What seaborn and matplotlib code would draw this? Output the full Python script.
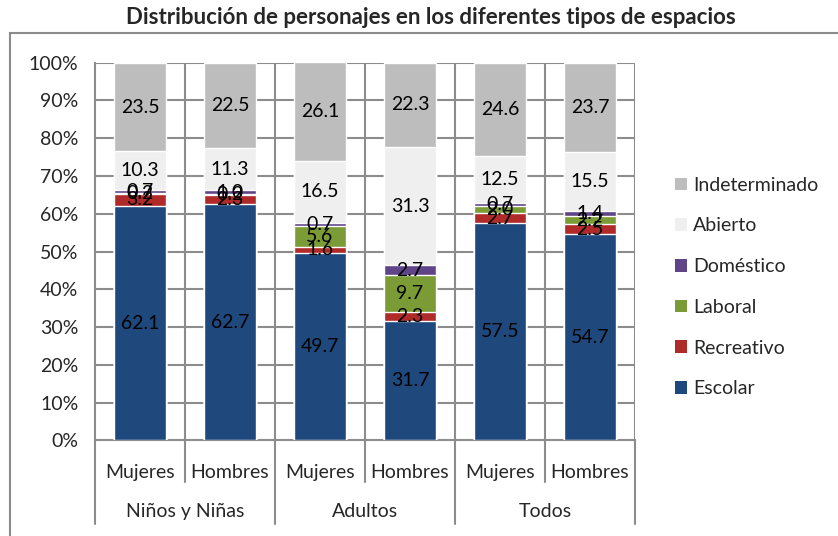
import numpy as np
import pandas as pd
import matplotlib
matplotlib.use("Agg")
import matplotlib.pyplot as plt
import matplotlib.patches as mpatches
import seaborn as sns

# Datos (porcentajes por tipo de espacio)
grupos = ["Niños y Niñas", "Niños y Niñas", "Adultos", "Adultos", "Todos", "Todos"]
sexos = ["Mujeres", "Hombres", "Mujeres", "Hombres", "Mujeres", "Hombres"]
espacios = ["Escolar", "Recreativo", "Laboral", "Doméstico", "Abierto", "Indeterminado"]

escolar = [62.1, 62.7, 49.7, 31.7, 57.5, 54.7]
recreativo = [3.2, 2.3, 1.6, 2.3, 2.7, 2.5]
laboral = [0.2, 0.2, 5.6, 9.7, 2.0, 2.2]
domestico = [0.7, 1.0, 0.7, 2.7, 0.7, 1.4]
abierto = [10.3, 11.3, 16.5, 31.3, 12.5, 15.5]
indeterminado = [23.5, 22.5, 26.1, 22.3, 24.6, 23.7]

colores = {
    "Escolar": "#1f497d",
    "Recreativo": "#b02a2a",
    "Laboral": "#7b9b36",
    "Doméstico": "#5f4488",
    "Abierto": "#efefef",
    "Indeterminado": "#bdbdbd",
}

sns.set_style("white")
plt.rcParams["font.family"] = ["Lato", "DejaVu Sans"]
FS = 14

df = pd.DataFrame({"barra": [f"{g}|{s}" for g, s in zip(grupos, sexos)]})
valores = [escolar, recreativo, laboral, domestico, abierto, indeterminado]
for nombre, v in zip(espacios, valores):
    df[nombre] = v
acum = df[espacios].cumsum(axis=1)

fig = plt.figure(figsize=(8.38, 5.36), dpi=100)
ax = fig.add_axes([0.1134, 0.1782, 0.6444, 0.7048])

# Barras apiladas: se dibujan los acumulados de arriba hacia abajo
for nombre in reversed(espacios):
    sns.barplot(x=df["barra"], y=acum[nombre], color=colores[nombre],
                width=0.58, saturation=1, ax=ax, zorder=3)

# Etiquetas de datos
for i in range(len(df)):
    base = 0
    for nombre in espacios:
        v = df.loc[i, nombre]
        ax.text(i, base + v / 2, f"{v:.1f}",
                ha="center", va="center", fontsize=FS, color="black", zorder=5)
        base += v

ax.set_ylim(0, 100)
ax.set_xlim(-0.5, 5.5)
ax.set_yticks(np.arange(0, 101, 10))
ax.set_yticklabels([f"{t}%" for t in range(0, 101, 10)], fontsize=FS)
ax.set_xticks(range(6))
ax.set_xticklabels(sexos, fontsize=FS)
ax.tick_params(axis="x", length=0, pad=17)
ax.tick_params(axis="y", length=7, width=1.5, color="#8c8c8c", direction="out", pad=5)
ax.set_xlabel("")
ax.set_ylabel("")

grid_c = "#8c8c8c"
for y in range(10, 101, 10):
    ax.axhline(y, color=grid_c, lw=1.5, zorder=1)
for x in np.arange(0.5, 5.6, 1):
    ax.axvline(x, color=grid_c, lw=1.5, zorder=1)
for s in ["top", "right"]:
    ax.spines[s].set_visible(False)
for s in ["left", "bottom"]:
    ax.spines[s].set_color(grid_c)
    ax.spines[s].set_linewidth(1.5)

# Eje x de dos niveles
tr = ax.get_xaxis_transform()
for x in [0.5, 2.5, 4.5]:
    ax.plot([x, x], [0, -0.111], color=grid_c, lw=1.5, transform=tr, clip_on=False)
for x in [-0.5, 1.5, 3.5, 5.5]:
    ax.plot([x, x], [0, -0.22], color=grid_c, lw=1.5, transform=tr, clip_on=False)
for x, g in zip([0.5, 2.5, 4.5], ["Niños y Niñas", "Adultos", "Todos"]):
    ax.text(x, -0.187, g, transform=tr, ha="center", va="center", fontsize=FS)

# Leyenda
handles = [mpatches.Patch(facecolor=colores[n], edgecolor="none", label=n)
           for n in reversed(espacios)]
fig.legend(handles=handles, loc="center left", bbox_to_anchor=(0.8055, 0.4646),
           frameon=False, fontsize=FS, labelspacing=1.22, handlelength=0.62,
           handleheight=0.62, handletextpad=0.3, borderpad=0, borderaxespad=0)

# Marco del gráfico
fig.patches.append(mpatches.Rectangle((0.0119, -0.05), 1.1, 0.988,
                                      transform=fig.transFigure, fill=False,
                                      edgecolor=grid_c, lw=1.5))

fig.text(0.514, 0.968, "Distribución de personajes en los diferentes tipos de espacios",
         ha="center", va="center", fontsize=16, fontweight="bold")

fig.savefig("out.png", dpi=100, facecolor="white")
